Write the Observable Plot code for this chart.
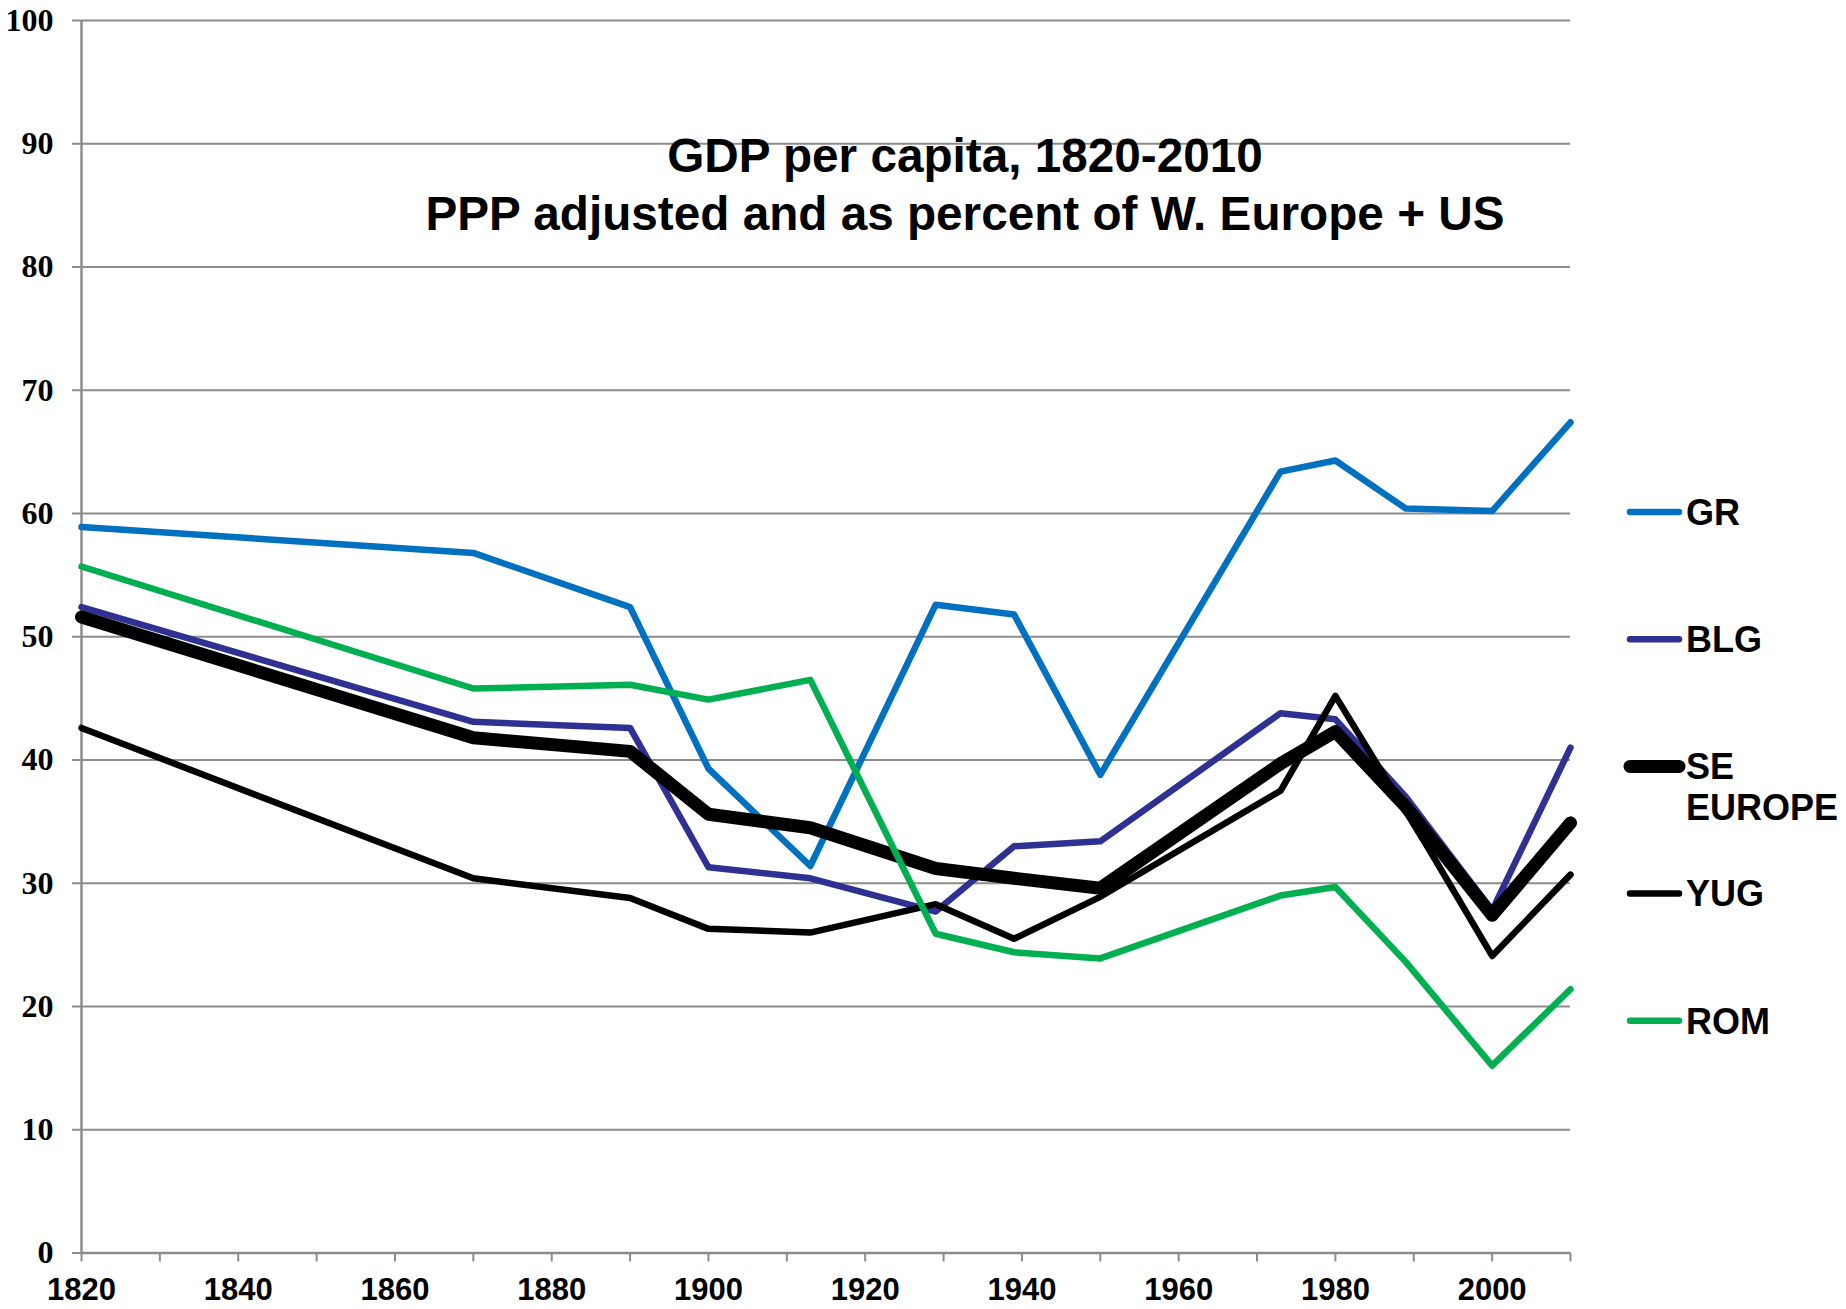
<!DOCTYPE html>
<html>
<head>
<meta charset="utf-8">
<script src="https://cdn.jsdelivr.net/npm/d3@7"></script>
<script src="https://cdn.jsdelivr.net/npm/@observablehq/plot@0.6"></script>
<style>
  html, body { margin: 0; padding: 0; background: #fff; overflow: hidden; }
  #wrap { position: relative; width: 1846px; height: 1309px; }
  #title {
    position: absolute; left: 365px; width: 1200px; top: 127px;
    text-align: center; font-family: "Liberation Sans", Arial, sans-serif;
    font-weight: bold; font-size: 47.7px; line-height: 58px; color: #000;
    pointer-events: none;
  }
  #legend { position: absolute; left: 0; top: 0; pointer-events: none; }
</style>
</head>
<body>
<div id="wrap">
  <div id="chart"></div>
  <div id="title">GDP per capita, 1820-2010<br>PPP adjusted and as percent of W. Europe + US</div>
</div>
<script>
// ---- data ----
const years    = [1820, 1870, 1890, 1900, 1913, 1929, 1939, 1950, 1973, 1980, 1989, 2000, 2010];
const yugYears = [1820, 1870, 1890, 1900, 1913, 1929, 1939, 1950, 1973, 1980, 1992, 2000, 2010];

const GR  = [58.9, 56.8, 52.4, 39.3, 31.4, 52.6, 51.8, 38.8, 63.4, 64.3, 60.4, 60.2, 67.4];
const BLG = [52.4, 43.1, 42.6, 31.3, 30.4, 27.7, 33.0, 33.4, 43.8, 43.3, 37.0, 27.8, 41.0];
const SE  = [51.6, 41.8, 40.7, 35.6, 34.5, 31.2, 30.4, 29.6, 39.7, 42.3, 36.2, 27.4, 34.9];
const YUG = [42.6, 30.4, 28.8, 26.3, 26.0, 28.3, 25.5, 28.9, 37.5, 45.2, 32.7, 24.1, 30.7];
const ROM = [55.7, 45.8, 46.1, 44.9, 46.5, 25.9, 24.4, 23.9, 29.0, 29.7, 23.6, 15.2, 21.4];

const seriesKeys   = ["GR", "BLG", "SE", "YUG", "ROM"];
const legendLabels = [["GR"], ["BLG"], ["SE", "EUROPE"], ["YUG"], ["ROM"]];
const xTicks = d3.range(1820, 2011, 10);
const yTicks = d3.range(0, 101, 10);

// ---- styles ----
const styles = {
  GR:  {color: "#0070C0", width: 6.5},
  BLG: {color: "#2E3192", width: 6.5},
  SE:  {color: "#000000", width: 13},
  YUG: {color: "#000000", width: 6.5},
  ROM: {color: "#00B050", width: 6.5}
};

const seriesData = {
  GR:  years.map((y, i) => ({year: y, value: GR[i]})),
  BLG: years.map((y, i) => ({year: y, value: BLG[i]})),
  SE:  years.map((y, i) => ({year: y, value: SE[i]})),
  YUG: yugYears.map((y, i) => ({year: y, value: YUG[i]})),
  ROM: years.map((y, i) => ({year: y, value: ROM[i]}))
};

const grey = "#8c8c8c";

const chart = Plot.plot({
  width: 1846,
  height: 1309,
  marginLeft: 81,
  marginRight: 276,
  marginTop: 20,
  marginBottom: 56.5,
  x: {domain: [1820, 2010]},
  y: {domain: [0, 100]},
  style: {background: "transparent", color: "#000", overflow: "visible"},
  marks: [
    Plot.gridY(yTicks, {stroke: grey, strokeOpacity: 1, strokeWidth: 2}),
    Plot.axisY(yTicks, {
      tickSize: 9, tickPadding: 19, stroke: grey, strokeWidth: 2,
      tickFormat: d => String(d), label: null,
      fontFamily: "'Liberation Serif', 'Times New Roman', serif",
      fontSize: 32, fontWeight: "bold", fill: "#000"
    }),
    Plot.axisX(xTicks, {
      tickSize: 9, tickPadding: 16, stroke: grey, strokeWidth: 2,
      tickFormat: d => (d % 20 === 0 ? String(d) : ""), label: null,
      fontFamily: "'Liberation Sans', Arial, sans-serif",
      fontSize: 31, fontWeight: "bold", fill: "#000"
    }),
    Plot.ruleX([1820], {stroke: grey, strokeWidth: 2.5}),
    Plot.ruleY([0], {stroke: grey, strokeWidth: 2.5}),
    ...seriesKeys.map(k => Plot.line(seriesData[k], {
      x: "year", y: "value",
      stroke: styles[k].color, strokeWidth: styles[k].width,
      strokeLinejoin: "round", strokeLinecap: "round"
    }))
  ]
});
document.getElementById("chart").appendChild(chart);

// ---- legend (overlay) ----
const legend = d3.select("#wrap").append("svg")
  .attr("id", "legend").attr("width", 1846).attr("height", 1309);
const legendTop = 512, legendStep = 127.2, fs = 36;
seriesKeys.forEach((k, i) => {
  const cy = legendTop + i * legendStep;
  legend.append("line")
    .attr("x1", 1630).attr("x2", 1679).attr("y1", cy).attr("y2", cy)
    .attr("stroke", styles[k].color).attr("stroke-width", styles[k].width)
    .attr("stroke-linecap", "round");
  legendLabels[i].forEach((t, j) => {
    legend.append("text")
      .attr("x", 1686).attr("y", cy + 0.358 * fs + j * 41)
      .attr("font-family", "'Liberation Sans', Arial, sans-serif")
      .attr("font-weight", "bold").attr("font-size", fs)
      .attr("fill", "#000").text(t);
  });
});
</script>
</body>
</html>
